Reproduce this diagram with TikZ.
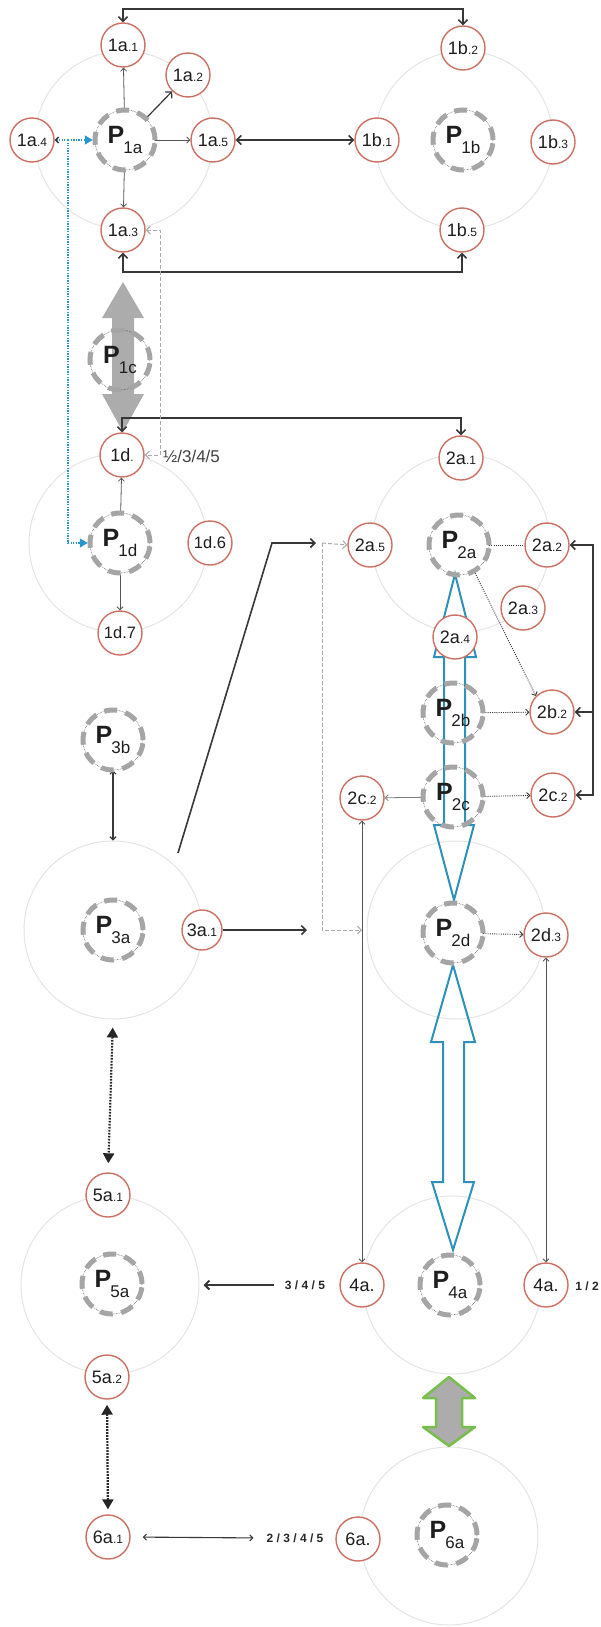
\documentclass[tikz,border=0pt]{standalone}
\usepackage{fontspec}
\setmainfont{Liberation Sans}
\usetikzlibrary{arrows.meta,calc}
\definecolor{redc}{RGB}{205,112,100}
\definecolor{lightc}{RGB}{228,228,228}
\definecolor{pgray}{RGB}{165,165,165}
\definecolor{darkc}{RGB}{55,55,55}
\definecolor{txtc}{RGB}{30,30,30}
\definecolor{bluec}{RGB}{45,145,185}
\definecolor{bluedc}{RGB}{40,150,205}
\definecolor{greenc}{RGB}{120,190,75}
\definecolor{arrgray}{RGB}{172,172,172}
\definecolor{dashg}{RGB}{170,170,170}
\pgfdeclarelayer{bg}
\pgfdeclarelayer{mid}
\pgfsetlayers{bg,mid,main}
\newcommand{\smlbl}[2]{{\fontsize{18}{18}\selectfont #1}{\fontsize{12}{12}\selectfont #2}}
\newcommand{\plab}[1]{{\fontsize{25}{25}\selectfont\bfseries P}\kern-1pt\raisebox{-10pt}{\fontsize{17}{17}\selectfont #1}}
\begin{document}
\begin{tikzpicture}[x=1pt,y=-1pt,
  big/.style={circle,draw=lightc,line width=1pt,minimum size=178pt,inner sep=0pt},
  rn/.style={circle,draw=redc,line width=1.4pt,fill=white,minimum size=44pt,inner sep=0pt,text=txtc},
  pn/.style={circle,minimum size=60pt,inner sep=0pt,text=txtc,draw=darkc,line width=0.5pt,densely dotted,
     postaction={draw=pgray,line width=5pt,solid,dash pattern=on 13pt off 8.5pt}},
  conn/.style={draw=darkc,line width=1.6pt},
  fine/.style={draw=darkc!85,line width=0.8pt},
  ar/.style={arrows={-Straight Barb[length=4.5pt,width=9pt]}},
  arr/.style={arrows={Straight Barb[length=4.5pt,width=9pt]-Straight Barb[length=4.5pt,width=9pt]}},
  sar/.style={arrows={-Straight Barb[length=3pt,width=6pt]}},
  sarr/.style={arrows={Straight Barb[length=3pt,width=6pt]-Straight Barb[length=3pt,width=6pt]}},
  gdash/.style={draw=dashg,line width=1pt,dash pattern=on 4pt off 2pt},
  dotc/.style={draw=darkc,line width=0.9pt,dash pattern=on 1pt off 1.2pt},
  tdot/.style={draw=black!85,line width=2.2pt,dash pattern=on 1.6pt off 1.4pt,
     arrows={Triangle[length=10pt,width=11pt]-Triangle[length=10pt,width=11pt]}},
  bdot/.style={draw=bluedc,line width=1.3pt,dash pattern=on 1.3pt off 1.3pt},
  smallb/.style={font=\fontsize{12}{12}\selectfont\bfseries,text=black!85,inner sep=1pt}
]
\useasboundingbox (0,0) rectangle (600,1627);

\begin{pgfonlayer}{bg}
\node[big] (C1a) at (124,140) {};
\node[big] (C1b) at (464,140) {};
\node[big] (C1d) at (118,543) {};
\node[big] (C2a) at (461,543) {};
\node[big] (C3a) at (113,930) {};
\node[big] (C2d) at (456,930) {};
\node[big] (C5a) at (110,1285) {};
\node[big] (C4a) at (452,1285) {};
\node[big] (C6a) at (449,1536) {};
\end{pgfonlayer}

\node[pn] (P1a) at (125,140) {\plab{1a}};
\node[pn] (P1b) at (463,140) {\plab{1b}};
\node[pn] (P1c) at (120,360) {\plab{1c}};
\node[pn] (P1d) at (120,543) {\plab{1d}};
\node[pn] (P2a) at (459,545) {\plab{2a}};
\node[pn] (P2b) at (453,713) {\plab{2b}};
\node[pn] (P2c) at (453,797) {\plab{2c}};
\node[pn] (P2d) at (453,933) {\plab{2d}};
\node[pn] (P3b) at (113,740) {\plab{3b}};
\node[pn] (P3a) at (113,930) {\plab{3a}};
\node[pn] (P5a) at (112,1284) {\plab{5a}};
\node[pn] (P4a) at (450,1285) {\plab{4a}};
\node[pn] (P6a) at (447,1535) {\plab{6a}};

\node[rn] (n1a1) at (123,45) {\smlbl{1a}{.1}};
\node[rn] (n1a2) at (188,75) {\smlbl{1a}{.2}};
\node[rn] (n1a4) at (32,140) {\smlbl{1a}{.4}};
\node[rn] (n1a5) at (213,140) {\smlbl{1a}{.5}};
\node[rn] (n1a3) at (123,230) {\smlbl{1a}{.3}};
\node[rn] (n1b2) at (463,48) {\smlbl{1b}{.2}};
\node[rn] (n1b1) at (377,140) {\smlbl{1b}{.1}};
\node[rn] (n1b3) at (553,142) {\smlbl{1b}{.3}};
\node[rn] (n1b5) at (462,230) {\smlbl{1b}{.5}};
\node[rn] (n1d) at (122,455) {\smlbl{1d}{.}};
\node[rn] (n1d6) at (210,543) {\fontsize{16.5}{16.5}\selectfont 1d.6};
\node[rn] (n1d7) at (120,633) {\fontsize{16.5}{16.5}\selectfont 1d.7};
\node[rn] (n2a1) at (461,458) {\smlbl{2a}{.1}};
\node[rn] (n2a5) at (370,545) {\smlbl{2a}{.5}};
\node[rn] (n2a2) at (547,545) {\smlbl{2a}{.2}};
\node[rn] (n2a3) at (523,608) {\smlbl{2a}{.3}};
\node[rn] (n2a4) at (455,637) {\smlbl{2a}{.4}};
\node[rn] (n2b2) at (552,712) {\smlbl{2b}{.2}};
\node[rn] (n2c2L) at (362,798) {\smlbl{2c}{.2}};
\node[rn] (n2c2R) at (553,795) {\smlbl{2c}{.2}};
\node[rn] (n2d3) at (546,935) {\smlbl{2d}{.3}};
\node[rn,minimum size=40pt] (n3a1) at (202,930) {\smlbl{3a}{.1}};
\node[rn] (n4aL) at (362,1285) {\fontsize{18}{18}\selectfont 4a.};
\node[rn] (n4aR) at (546,1285) {\fontsize{18}{18}\selectfont 4a.};
\node[rn] (n5a1) at (108,1195) {\smlbl{5a}{.1}};
\node[rn] (n5a2) at (107,1377) {\smlbl{5a}{.2}};
\node[rn] (n6a1) at (108,1537) {\smlbl{6a}{.1}};
\node[rn] (n6a) at (358,1539) {\fontsize{18}{18}\selectfont 6a.};

\node[anchor=west,text=txtc!85,font=\fontsize{17}{17}\selectfont,inner sep=0pt] (t1d) at (163,456) {½/3/4/5};
\node[smallb] (t12) at (587,1286) {1 / 2};
\node[smallb] (t345) at (305,1285) {3 / 4 / 5};
\node[smallb] (t2345) at (295,1538) {2 / 3 / 4 / 5};

\begin{pgfonlayer}{mid}
% big arrows
\fill[arrgray] (123,282) -- (144,318) -- (134,318) -- (134,394) -- (144,394) -- (123,432) -- (102,394) -- (112,394) -- (112,318) -- (102,318) -- cycle;
\draw[bluec,line width=2pt,line join=miter] (455,574) -- (476,657) -- (465,657) -- (465,825) -- (474,825) -- (454,900) -- (434,825) -- (444,825) -- (444,657) -- (434,657) -- cycle;
\draw[bluec,line width=2pt,line join=miter] (453,965) -- (475,1042) -- (464,1042) -- (464,1182) -- (474,1182) -- (453,1250) -- (432,1182) -- (443,1182) -- (443,1042) -- (431,1042) -- cycle;
\filldraw[fill=arrgray,draw=greenc,line width=2.5pt,line join=round] (449,1377) -- (475,1398) -- (462,1398) -- (462,1427) -- (475,1427) -- (449,1446) -- (423,1427) -- (436,1427) -- (436,1398) -- (423,1398) -- cycle;

% top block
\coordinate (t1) at (123,9); \coordinate (t2) at (463,9);
\draw[conn,arr] (n1a1.north) -- (t1) -- (t2) -- (n1b2.north);
\coordinate (u1) at (123,272); \coordinate (u2) at (462,272);
\draw[conn,arr] (n1a3.south) -- (u1) -- (u2) -- (n1b5.south);
\draw[conn,arr] (n1a5) -- (n1b1);
\coordinate (v1) at (122,418); \coordinate (v2) at (461,418);
\draw[conn,arr] (n1d.north) -- (v1) -- (v2) -- (n2a1.north);

\draw[fine,sar] (P1a) -- (n1a1);
\draw[conn,line width=1.2pt,ar] (P1a) -- (n1a2);
\draw[fine,sar] (P1a) -- (n1a5);
\draw[fine,sar] (P1a) -- (n1a3);

% blue dotted
\coordinate (b1) at (68,140); \coordinate (b2) at (68,543);
\draw[bdot,arrows={-Triangle[length=8pt,width=9pt]},shorten >=2pt] (b1) -- (P1a.west);
\draw[bdot,arrows={-Triangle[length=8pt,width=9pt]},shorten >=2pt] (b1) -- (b2) -- (P1d.west);
\draw[bdot,arrows={-Straight Barb[length=3pt,width=6pt,color=darkc]}] (b1) -- (n1a4.east);

% gray dashed 1a.3 - 1d
\coordinate (g1) at (160,230); \coordinate (g2) at (160,455);
\draw[gdash,arrows={Straight Barb[length=4pt,width=8pt]-Straight Barb[length=4pt,width=8pt]}] (n1a3.east) -- (g1) -- (g2) -- (n1d.east);

\draw[fine,sar] (P1d) -- (n1d);
\draw[fine,sar] (P1d) -- (n1d7);

% P3
\draw[conn,line width=1.2pt,sarr] (P3b.south) -- (C3a.north);
\coordinate (k0) at (178,853); \coordinate (k1) at (272,543); \coordinate (k2) at (316,543);
\draw[conn,ar] (k0) -- (k1) -- (k2);
\coordinate (h1) at (307,930);
\draw[conn,ar] (n3a1) -- (h1);

% gray dashed 2a.5
\coordinate (m1) at (322,543); \coordinate (m2) at (322,930); \coordinate (m3) at (362,930);
\draw[gdash,arrows={-Straight Barb[length=4pt,width=8pt]}] (m1) -- (n2a5.west);
\draw[gdash,arrows={-Straight Barb[length=4pt,width=8pt]}] (m1) -- (m2) -- (m3);

% P2 group
\draw[dotc] (P2a) -- (n2a2);
\draw[dotc,sar] (P2a.-60) -- (n2b2.north west);
\draw[dotc,sar] (P2b) -- (n2b2);
\draw[dotc,sar] (P2c) -- (n2c2R);
\draw[fine,draw=gray,sar] (P2c) -- (n2c2L);
\draw[dotc,sar] (P2d) -- (n2d3);
\coordinate (r1) at (593,545); \coordinate (r2) at (593,795); \coordinate (r3) at (593,712);
\draw[conn,arr] (n2a2.east) -- (r1) -- (r2) -- (n2c2R.east);
\draw[conn,ar] (r3) -- (n2b2.east);
\draw[fine,sarr] (n4aL.north) -- (n2c2L.south);
\draw[fine,sarr] (n4aR.north) -- (n2d3.south);

% bottom
\draw[conn,line width=2pt,ar,shorten <=10pt,shorten >=4pt] (t345.west) -- (C5a.east);
\draw[tdot,shorten <=8pt,shorten >=9pt] (C3a.south) -- (n5a1.north);
\draw[tdot,shorten <=5pt,shorten >=5pt] (n5a2.south) -- (n6a1.north);
\draw[conn,line width=1.1pt,sarr,shorten <=12pt,shorten >=12pt] (n6a1.east) -- (t2345.west);
\end{pgfonlayer}
\end{tikzpicture}
\end{document}
